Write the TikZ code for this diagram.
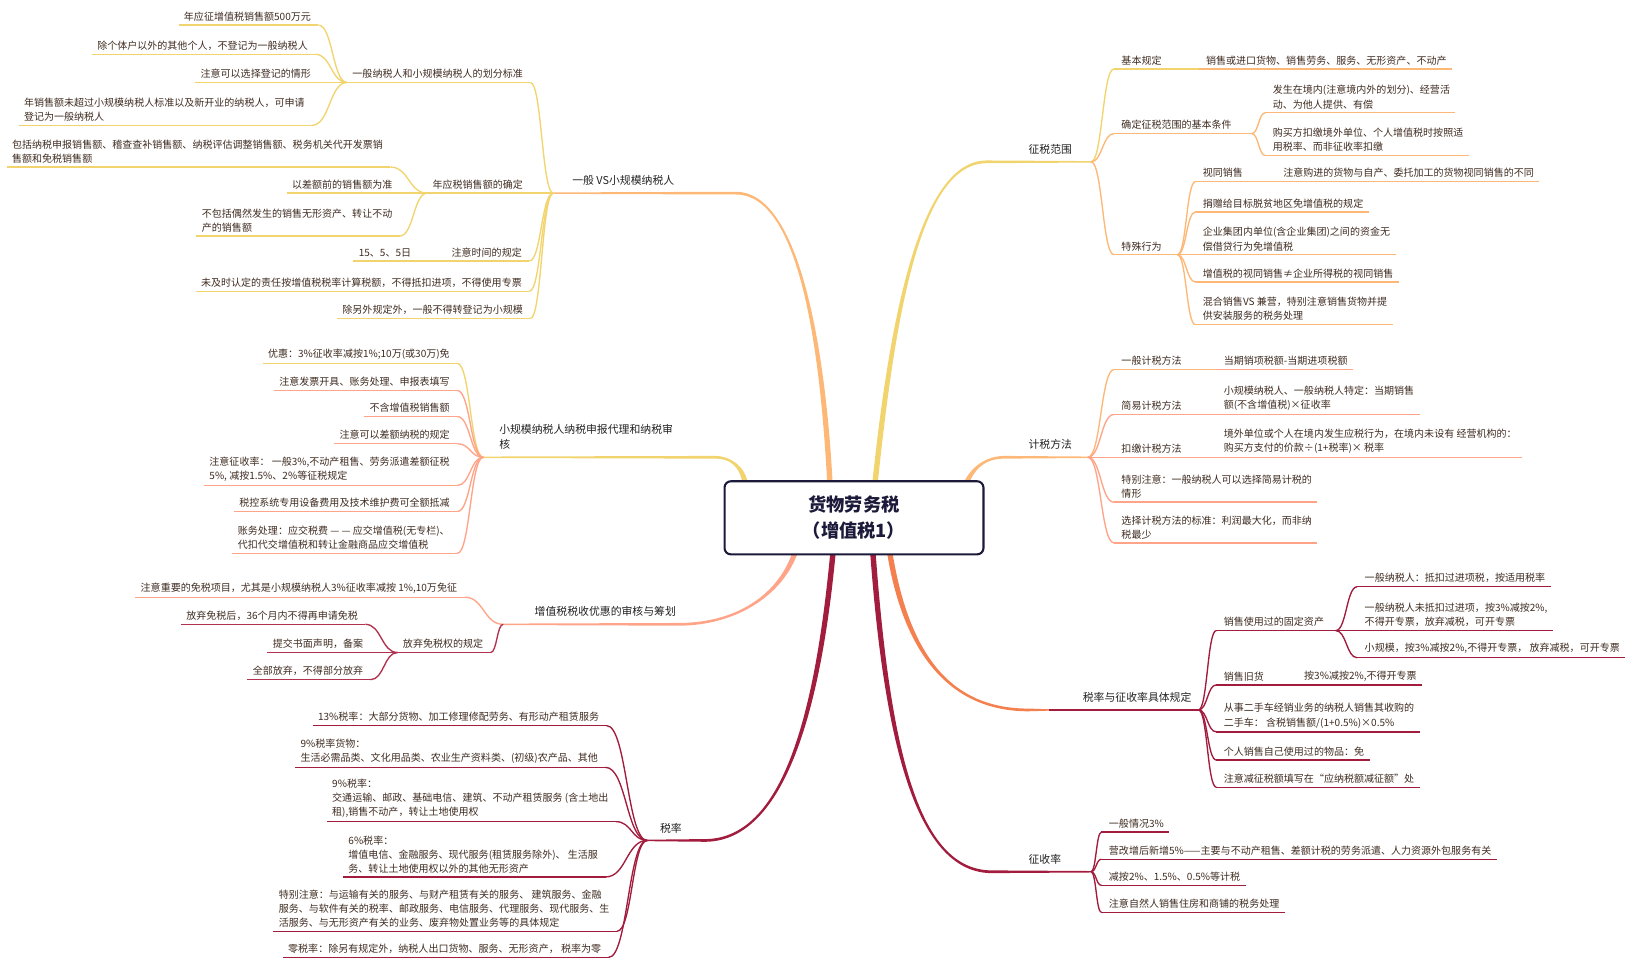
\documentclass[tikz,border=0pt]{standalone}
\usepackage{fontspec}
\setmainfont{Noto Sans CJK SC}
\usetikzlibrary{calc,backgrounds}
\definecolor{cYel}{HTML}{F2D46E}
\definecolor{cLOr}{HTML}{FDB877}
\definecolor{cSal}{HTML}{FFA488}
\definecolor{cORd}{HTML}{F5804F}
\definecolor{cRed}{HTML}{A21C3E}
\definecolor{cRose}{HTML}{B0324F}
\definecolor{cTxt}{HTML}{3E2B20}
\definecolor{cMain}{HTML}{222222}
\definecolor{cBox}{HTML}{1B1A3A}
\newcommand\mmconn[3]{%
  \path (#2) coordinate (cA) (#3) coordinate (cB);
  \path ($(cA)!0.5!(cB)$) coordinate (cM);
  \draw[ul=#1] (cA) .. controls (cM |- cA) and (cM |- cB) .. (cB);}
\newcommand\mmbranch[8]{%
  \fill[#1] ($(#2)+(#7,0)$) .. controls ($(#3)+(#7,0)$) and ($(#4)+(0,1.3)$) .. ($(#5)+(0,1.3)$) -- ($(#6)+(0,0.7)$) -- ($(#6)+(0,-0.7)$) -- ($(#5)+(0,-1.3)$) .. controls ($(#4)+(0,-1.3)$) and ($(#3)+(#8,0)$) .. ($(#2)+(#8,0)$) -- cycle;}
\newcommand\Lleaf[5]{%
  \node[txt,anchor=south east] (#1) at (#2,#3-3.5) {#5};
  \coordinate (#1-l) at ([xshift=-5pt,yshift=-3.5pt]#1.south west);
  \coordinate (#1-r) at ([xshift=7pt,yshift=-3.5pt]#1.south east);
  \draw[ul=#4] (#1-l) -- (#1-r);}
\newcommand\Rleaf[5]{%
  \node[txt,anchor=south west] (#1) at (#2,#3-3.5) {#5};
  \coordinate (#1-l) at ([xshift=-7pt,yshift=-3.5pt]#1.south west);
  \coordinate (#1-r) at ([xshift=5pt,yshift=-3.5pt]#1.south east);
  \draw[ul=#4] (#1-l) -- (#1-r);}
\newcommand\Mnode[4]{\node[mtxt,anchor=south west] (#1) at (#2,#3-7) {#4};}
\begin{document}
\begin{tikzpicture}[x=1pt,y=-1pt,
  txt/.style={inner sep=0pt,align=left,text=cTxt,font=\fontsize{9.6}{13.5}\selectfont},
  mtxt/.style={inner sep=0pt,align=left,text=cMain,font=\fontsize{10.4}{15}\selectfont},
  ul/.style={draw=#1,line width=1.3pt},
  rootbox/.style={draw=cBox,line width=2pt,rounded corners=6pt,fill=white,minimum width=248pt,minimum height=70pt,align=center,text=cBox,font=\bfseries\fontsize{17.5}{25}\selectfont}]
\useasboundingbox (0,0) rectangle (1568,926);
\node[rootbox] (root) at (818,496) {货物劳务税\\（增值税1）};
% branch starts
\coordinate (s1) at ([xshift=-23pt,yshift=-4pt]root.north);
\coordinate (s2) at ([xshift=-104pt,yshift=-4pt]root.north);
\coordinate (s3) at ([xshift=-56pt,yshift=4pt]root.south);
\coordinate (s4) at ([xshift=-20pt,yshift=4pt]root.south);
\coordinate (t1) at ([xshift=20pt,yshift=-4pt]root.north);
\coordinate (t2) at ([xshift=107pt,yshift=-4pt]root.north);
\coordinate (t3) at ([xshift=34pt,yshift=4pt]root.south);
\coordinate (t4) at ([xshift=18pt,yshift=4pt]root.south);
\coordinate (fg1) at (530,185);
\coordinate (fg2) at (463,438);
\coordinate (fg3) at (482,598);
\coordinate (fg4) at (620,805);
\coordinate (fr1) at (1045,155);
\coordinate (fr2) at (1042,438);
\coordinate (fr3) at (1148,680);
\coordinate (fr4) at (1045,835);
\coordinate (r3s) at (1005,680);
\begin{scope}[on background layer]
\mmbranch{cLOr}{s1}{788,330}{765,185}{705,185}{fg1}{-2.6}{2.6}
\mmbranch{cYel}{s2}{711,445}{698,438}{685,438}{fg2}{-2.6}{2.6}
\mmbranch{cSal}{s3}{748,570}{705,598}{650,598}{fg3}{2.6}{-2.6}
\mmbranch{cRed}{s4}{782,700}{745,805}{675,805}{fg4}{2.6}{-2.6}
\mmbranch{cYel}{t1}{855,300}{882,155}{945,155}{fr1}{2.6}{-2.6}
\mmbranch{cLOr}{t2}{932,447}{945,438}{962,438}{fr2}{2.6}{-2.6}
\mmbranch{cORd}{t3}{870,640}{920,680}{985,680}{r3s}{-2.6}{2.6}
\mmbranch{cRed}{t4}{850,720}{880,835}{950,835}{fr4}{-2.6}{2.6}
\end{scope}
\draw[ul=cRed] (r3s) -- (fr3);
% ---------------- G1
\Mnode{g1}{548}{185}{一般 VS小规模纳税人}
\Lleaf{g1a}{501}{79}{cYel}{一般纳税人和小规模纳税人的划分标准}
\mmconn{cYel}{g1a-r}{fg1}
\Lleaf{g1a1}{298}{24}{cYel}{年应征增值税销售额500万元}
\Lleaf{g1a2}{295}{52}{cYel}{除个体户以外的其他个人，不登记为一般纳税人}
\Lleaf{g1a3}{298}{79}{cYel}{注意可以选择登记的情形}
\Lleaf{g1a4}{292}{120}{cYel}{年销售额未超过小规模纳税人标准以及新开业的纳税人，可申请\\登记为一般纳税人}
\mmconn{cYel}{g1a1-r}{g1a-l}
\mmconn{cYel}{g1a2-r}{g1a-l}
\mmconn{cYel}{g1a3-r}{g1a-l}
\mmconn{cYel}{g1a4-r}{g1a-l}
\Lleaf{g1b}{501}{185}{cYel}{年应税销售额的确定}
\mmconn{cYel}{g1b-r}{fg1}
\Lleaf{g1b1}{367}{160}{cYel}{包括纳税申报销售额、稽查查补销售额、纳税评估调整销售额、税务机关代开发票销\\售额和免税销售额}
\Lleaf{g1b2}{376}{185}{cYel}{以差额前的销售额为准}
\Lleaf{g1b3}{376}{226}{cYel}{不包括偶然发生的销售无形资产、转让不动\\产的销售额}
\mmconn{cYel}{g1b1-r}{g1b-l}
\mmconn{cYel}{g1b2-r}{g1b-l}
\mmconn{cYel}{g1b3-r}{g1b-l}
\Lleaf{g1c}{500}{250}{cYel}{注意时间的规定}
\mmconn{cYel}{g1c-r}{fg1}
\Lleaf{g1c1}{394}{250}{cYel}{15、5、5日}
\draw[ul=cYel] (g1c1-r) -- (g1c-l);
\Lleaf{g1d}{500}{279}{cYel}{未及时认定的责任按增值税税率计算税额，不得抵扣进项，不得使用专票}
\mmconn{cYel}{g1d-r}{fg1}
\Lleaf{g1e}{501}{305}{cYel}{除另外规定外，一般不得转登记为小规模}
\mmconn{cYel}{g1e-r}{fg1}
% ---------------- G2
\Mnode{g2}{478}{438}{小规模纳税人纳税申报代理和纳税审\\核}
\Lleaf{g2a}{431}{348}{cYel}{优惠：3\%征收率减按1\%;10万(或30万)免}
\Lleaf{g2b}{431}{374}{cSal}{注意发票开具、账务处理、申报表填写}
\Lleaf{g2c}{431}{399}{cSal}{不含增值税销售额}
\Lleaf{g2d}{431}{425}{cSal}{注意可以差额纳税的规定}
\Lleaf{g2e}{431}{465}{cSal}{注意征收率： 一般3\%,不动产租售、劳务派遣差额征税\\5\%, 减按1.5\%、2\%等征税规定}
\Lleaf{g2f}{431}{490}{cSal}{税控系统专用设备费用及技术维护费可全额抵减}
\Lleaf{g2g}{431}{530}{cSal}{账务处理：应交税费 — — 应交增值税(无专栏)、\\代扣代交增值税和转让金融商品应交增值税}
\mmconn{cYel}{g2a-r}{fg2}
\mmconn{cSal}{g2b-r}{fg2}
\mmconn{cSal}{g2c-r}{fg2}
\mmconn{cSal}{g2d-r}{fg2}
\mmconn{cSal}{g2e-r}{fg2}
\mmconn{cSal}{g2f-r}{fg2}
\mmconn{cSal}{g2g-r}{fg2}
% ---------------- G3
\Mnode{g3}{512}{598}{增值税税收优惠的审核与筹划}
\Lleaf{g3a}{438}{572}{cSal}{注意重要的免税项目，尤其是小规模纳税人3\%征收率减按 1\%,10万免征}
\mmconn{cSal}{g3a-r}{fg3}
\Lleaf{g3b}{463}{625}{cRose}{放弃免税权的规定}
\mmconn{cRose}{g3b-r}{fg3}
\Lleaf{g3b1}{343}{598}{cRose}{放弃免税后，36个月内不得再申请免税}
\Lleaf{g3b2}{348}{625}{cRose}{提交书面声明，备案}
\Lleaf{g3b3}{348}{651}{cRose}{全部放弃，不得部分放弃}
\mmconn{cRose}{g3b1-r}{g3b-l}
\mmconn{cRose}{g3b2-r}{g3b-l}
\mmconn{cRose}{g3b3-r}{g3b-l}
% ---------------- G4
\Mnode{g4}{632}{805}{税率}
\Lleaf{g4a}{574}{695}{cRed}{13\%税率：大部分货物、加工修理修配劳务、有形动产租赁服务}
\Lleaf{g4b}{573}{735}{cRed}{9\%税率货物：\\生活必需品类、文化用品类、农业生产资料类、(初级)农产品、其他}
\Lleaf{g4c}{583}{787}{cRed}{9\%税率：\\交通运输、邮政、基础电信、建筑、不动产租赁服务 (含土地出\\租),销售不动产，转让土地使用权}
\Lleaf{g4d}{573}{840}{cRed}{6\%税率：\\增值电信、金融服务、现代服务(租赁服务除外)、 生活服\\务、转让土地使用权以外的其他无形资产}
\Lleaf{g4e}{584}{892}{cRed}{特别注意：与运输有关的服务、与财产租赁有关的服务、 建筑服务、金融\\服务、与软件有关的税率、邮政服务、电信服务、代理服务、现代服务、生\\活服务、与无形资产有关的业务、废弃物处置业务等的具体规定}
\Lleaf{g4f}{576}{917}{cRed}{零税率：除另有规定外，纳税人出口货物、服务、无形资产， 税率为零}
\mmconn{cRed}{g4a-r}{fg4}
\mmconn{cRed}{g4b-r}{fg4}
\mmconn{cRed}{g4c-r}{fg4}
\mmconn{cRed}{g4d-r}{fg4}
\mmconn{cRed}{g4e-r}{fg4}
\mmconn{cRed}{g4f-r}{fg4}
% ---------------- R1
\Mnode{r1}{985}{155}{征税范围}
\Rleaf{r1a}{1074}{66}{cYel}{基本规定}
\Rleaf{r1a1}{1155}{66}{cLOr}{销售或进口货物、销售劳务、服务、无形资产、不动产}
\draw[ul=cYel] (r1a-r) -- (r1a1-l);
\mmconn{cYel}{fr1}{r1a-l}
\Rleaf{r1b}{1074}{128}{cLOr}{确定征税范围的基本条件}
\coordinate (r1bF) at ([xshift=14pt]r1b-r);
\draw[ul=cLOr] (r1b-r) -- (r1bF);
\mmconn{cLOr}{fr1}{r1b-l}
\Rleaf{r1b1}{1219}{108}{cLOr}{发生在境内(注意境内外的划分)、经营活\\动、为他人提供、有偿}
\Rleaf{r1b2}{1219}{149}{cLOr}{购买方扣缴境外单位、个人增值税时按照适\\用税率、而非征收率扣缴}
\mmconn{cLOr}{r1bF}{r1b1-l}
\mmconn{cLOr}{r1bF}{r1b2-l}
\Rleaf{r1c}{1074}{244}{cLOr}{特殊行为}
\coordinate (r1cF) at ([xshift=10pt]r1c-r);
\draw[ul=cLOr] (r1c-r) -- (r1cF);
\mmconn{cLOr}{fr1}{r1c-l}
\Rleaf{r1c1}{1152}{174}{cLOr}{视同销售}
\Rleaf{r1c1a}{1229}{174}{cLOr}{注意购进的货物与自产、委托加工的货物视同销售的不同}
\draw[ul=cLOr] (r1c1-r) -- (r1c1a-l);
\Rleaf{r1c2}{1152}{203}{cLOr}{捐赠给目标脱贫地区免增值税的规定}
\Rleaf{r1c3}{1152}{244}{cLOr}{企业集团内单位(含企业集团)之间的资金无\\偿借贷行为免增值税}
\Rleaf{r1c4}{1152}{270}{cLOr}{增值税的视同销售≠企业所得税的视同销售}
\Rleaf{r1c5}{1152}{311}{cLOr}{混合销售VS 兼营，特别注意销售货物并提\\供安装服务的税务处理}
\mmconn{cLOr}{r1cF}{r1c1-l}
\mmconn{cLOr}{r1cF}{r1c2-l}
\mmconn{cLOr}{r1cF}{r1c3-l}
\mmconn{cLOr}{r1cF}{r1c4-l}
\mmconn{cLOr}{r1cF}{r1c5-l}
% ---------------- R2
\Mnode{r2}{985}{438}{计税方法}
\Rleaf{r2a}{1074}{354}{cLOr}{一般计税方法}
\Rleaf{r2a1}{1172}{354}{cSal}{当期销项税额-当期进项税额}
\draw[ul=cLOr] (r2a-r) -- (r2a1-l);
\Rleaf{r2b}{1074}{397}{cSal}{简易计税方法}
\Rleaf{r2b1}{1172}{397}{cSal}{小规模纳税人、一般纳税人特定：当期销售\\额(不含增值税)×征收率}
\draw[ul=cSal] (r2b-r) -- (r2b1-l);
\Rleaf{r2c}{1074}{438}{cSal}{扣缴计税方法}
\Rleaf{r2c1}{1172}{438}{cSal}{境外单位或个人在境内发生应税行为，在境内未设有 经营机构的：\\购买方支付的价款÷(1+税率)× 税率}
\draw[ul=cSal] (r2c-r) -- (r2c1-l);
\Rleaf{r2d}{1074}{481}{cSal}{特别注意：一般纳税人可以选择简易计税的\\情形}
\Rleaf{r2e}{1074}{520}{cSal}{选择计税方法的标准：利润最大化，而非纳\\税最少}
\mmconn{cLOr}{fr2}{r2a-l}
\mmconn{cSal}{fr2}{r2b-l}
\mmconn{cSal}{fr2}{r2c-l}
\mmconn{cSal}{fr2}{r2d-l}
\mmconn{cSal}{fr2}{r2e-l}
% ---------------- R3
\Mnode{r3}{1037}{680}{税率与征收率具体规定}
\Rleaf{r3a}{1172}{604}{cRed}{销售使用过的固定资产}
\coordinate (r3aF) at ([xshift=6pt]r3a-r);
\draw[ul=cRed] (r3a-r) -- (r3aF);
\Rleaf{r3a1}{1307}{562}{cRed}{一般纳税人：抵扣过进项税，按适用税率}
\Rleaf{r3a2}{1307}{604}{cRed}{一般纳税人未抵扣过进项，按3\%减按2\%,\\不得开专票，放弃减税，可开专票}
\Rleaf{r3a3}{1307}{630}{cRed}{小规模，按3\%减按2\%,不得开专票， 放弃减税，可开专票}
\mmconn{cRed}{r3aF}{r3a1-l}
\mmconn{cRed}{r3aF}{r3a2-l}
\mmconn{cRed}{r3aF}{r3a3-l}
\Rleaf{r3b}{1172}{656}{cRed}{销售旧货}
\Rleaf{r3b1}{1249}{656}{cRed}{按3\%减按2\%,不得开专票}
\draw[ul=cRed] (r3b-r) -- (r3b1-l);
\Rleaf{r3c}{1172}{701}{cRed}{从事二手车经销业务的纳税人销售其收购的\\二手车：  含税销售额/(1+0.5\%)×0.5\%}
\Rleaf{r3d}{1172}{728}{cRed}{个人销售自己使用过的物品：免}
\Rleaf{r3e}{1172}{754}{cRed}{注意减征税额填写在“应纳税额减征额”处}
\mmconn{cRed}{fr3}{r3a-l}
\mmconn{cRed}{fr3}{r3b-l}
\mmconn{cRed}{fr3}{r3c-l}
\mmconn{cRed}{fr3}{r3d-l}
\mmconn{cRed}{fr3}{r3e-l}
% ---------------- R4
\Mnode{r4}{985}{835}{征收率}
\Rleaf{r4a}{1062}{797}{cRed}{一般情况3\%}
\Rleaf{r4b}{1062}{823}{cRed}{营改增后新增5\%——主要与不动产租售、差额计税的劳务派遣、人力资源外包服务有关}
\Rleaf{r4c}{1062}{848}{cRed}{减按2\%、1.5\%、0.5\%等计税}
\Rleaf{r4d}{1062}{874}{cRed}{注意自然人销售住房和商铺的税务处理}
\mmconn{cRed}{fr4}{r4a-l}
\mmconn{cRed}{fr4}{r4b-l}
\mmconn{cRed}{fr4}{r4c-l}
\mmconn{cRed}{fr4}{r4d-l}
\end{tikzpicture}
\end{document}
